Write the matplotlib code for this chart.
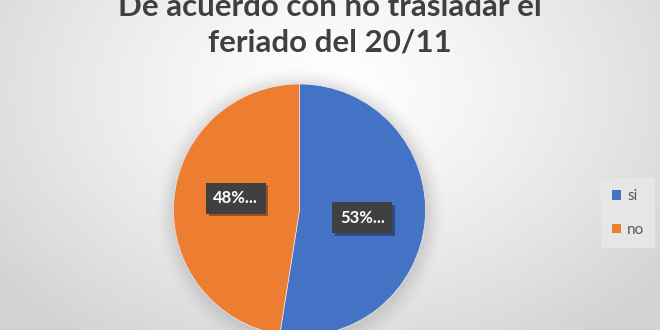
import numpy as np
import matplotlib
matplotlib.use("Agg")
import matplotlib.pyplot as plt
import matplotlib.patheffects as pe

labels = ["si", "no"]
values = [52.5, 47.5]
label_texts = ["53%...", "48%..."]
colors = ["#4472C4", "#ED7D31"]
title = "De acuerdo con no trasladar el\nferiado del 20/11"

W, H = 660, 330
fig = plt.figure(figsize=(W / 100, H / 100), dpi=100)

# background radial gradient
bg = fig.add_axes([0, 0, 1, 1])
yy, xx = np.mgrid[0:H, 0:W]
d = np.sqrt(((xx - 330) / 420.0) ** 2 + ((yy - 90) / 300.0) ** 2)
d = np.clip(d, 0, 1)
g = 1.0 - 0.17 * d ** 1.3
img = np.dstack([g, g, g])
bg.imshow(img, extent=[0, W, H, 0], aspect="auto")
bg.set_xlim(0, W)
bg.set_ylim(H, 0)
bg.axis("off")

ax = fig.add_axes([0, 0, 1, 1])
ax.set_xlim(0, W)
ax.set_ylim(0, H)
ax.set_aspect("equal")
ax.axis("off")
ax.patch.set_alpha(0)

cx, cy, R = 299.5, H - 210, 126

# soft shadow around pie
for i, a in enumerate(np.linspace(0.05, 0.012, 8)):
    c = plt.Circle((cx + 1, cy - 2), R + 2 + i * 2.2, color="#808080", alpha=a, lw=0, zorder=1)
    ax.add_patch(c)

wedges, _ = ax.pie(values, colors=colors, startangle=90, counterclock=False,
                   center=(cx, cy), radius=R, frame=True,
                   wedgeprops=dict(linewidth=0.5, edgecolor="#e8e8e8", zorder=2))
ax.set_xlim(0, W)
ax.set_ylim(0, H)
ax.axis("off")

# data labels
for w, t in zip(wedges, label_texts):
    ang = np.deg2rad((w.theta1 + w.theta2) / 2)
    r = 0.5 * R
    x = cx + r * np.cos(ang)
    y = cy + r * np.sin(ang)
    if x > cx:
        y -= 3
    else:
        x -= 1
        y += 7
    txt = ax.text(x, y, t, ha="center", va="center", color="white",
                  fontsize=12, fontweight="bold", family=["Lato", "DejaVu Sans"],
                  bbox=dict(boxstyle="square,pad=0.45", facecolor="#404040",
                            edgecolor="none"), zorder=5)
    txt.get_bbox_patch().set_path_effects([
        pe.SimplePatchShadow(offset=(2, -2), shadow_rgbFace="#000000", alpha=0.35),
        pe.Normal()])

fig.text(0.5, 1.0 - 25 / H, title, ha="center", va="center", fontsize=22.5,
         fontweight="bold", color="#404040", family=["Lato", "DejaVu Sans"],
         linespacing=1.32)

leg = ax.legend(wedges, labels, loc="center left",
                bbox_to_anchor=(601 / W, 1 - 213 / H), bbox_transform=fig.transFigure,
                handlelength=0.6, handleheight=0.6, handletextpad=0.4,
                labelspacing=1.3, fontsize=11, frameon=True, fancybox=False,
                borderpad=0.7, borderaxespad=0)
leg.get_frame().set_facecolor("#e6e6e6")
leg.get_frame().set_edgecolor("none")
leg.get_frame().set_alpha(1)
for t in leg.get_texts():
    t.set_color("#595959")
    t.set_family(["Lato", "DejaVu Sans"])
for h in leg.legend_handles:
    h.set_edgecolor("none")

fig.savefig("out.png", dpi=100)
